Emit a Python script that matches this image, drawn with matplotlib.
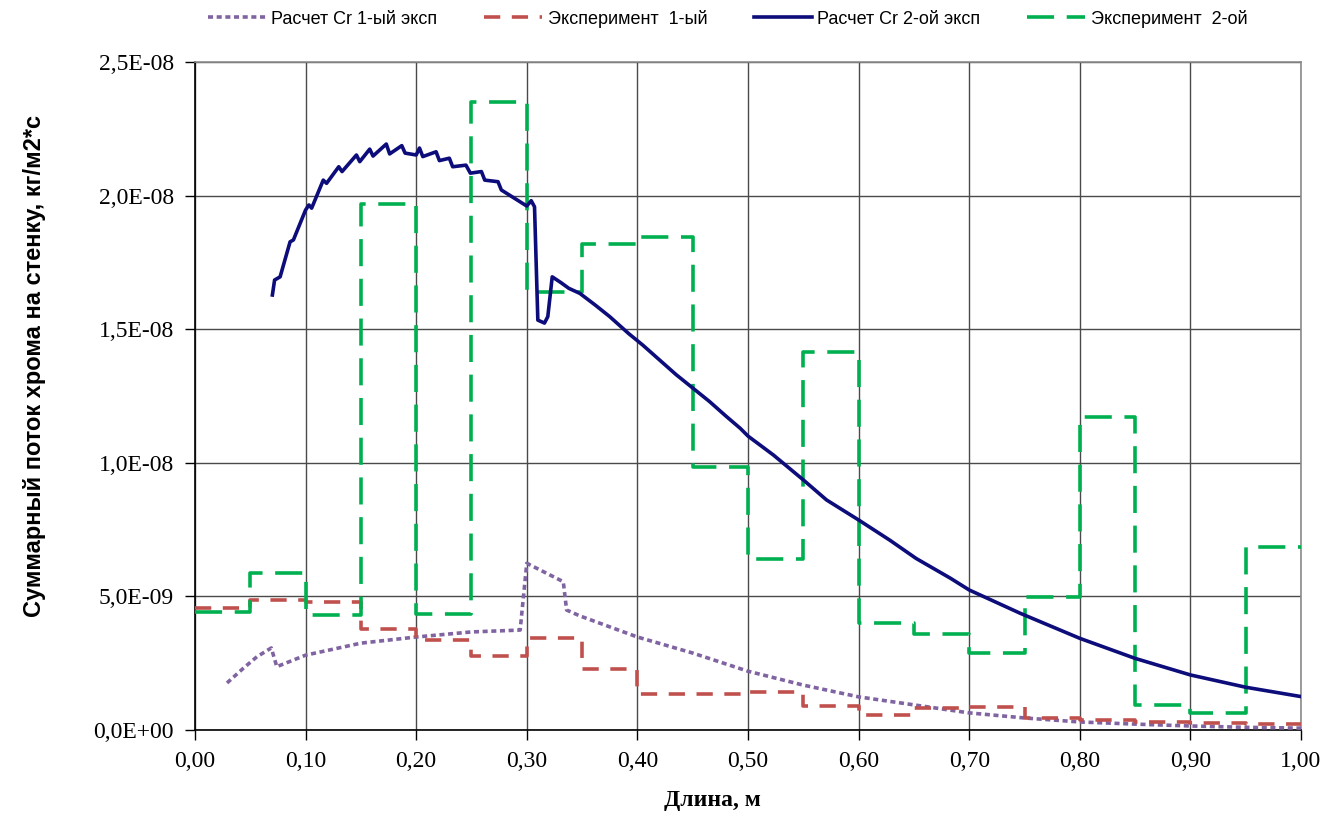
import matplotlib
matplotlib.use("Agg")
import matplotlib.pyplot as plt
from matplotlib.ticker import FuncFormatter, MultipleLocator
import numpy as np

# step edges for the experiments (bins of 0.05 m)
edges = [0.00, 0.05, 0.10, 0.15, 0.20, 0.25, 0.30, 0.35, 0.40, 0.45,
         0.50, 0.55, 0.60, 0.65, 0.70, 0.75, 0.80, 0.85, 0.90, 0.95, 1.00]

# experiment 1 (red), units 1e-9
exp1 = [4.55, 4.87, 4.80, 3.78, 3.37, 2.78, 3.44, 2.28, 1.33, 1.36,
        1.42, 0.91, 0.56, 0.82, 0.87, 0.45, 0.37, 0.30, 0.25, 0.22]

# experiment 2 (green), units 1e-9
exp2 = [4.43, 5.87, 4.30, 19.70, 4.35, 23.50, 16.40, 18.20, 18.45, 9.85,
        6.40, 14.15, 4.00, 3.60, 2.90, 4.98, 11.70, 0.94, 0.64, 6.85]

# calculation 1 (purple dotted)
calc1_x = [0.029, 0.044, 0.056, 0.069, 0.074, 0.10, 0.15, 0.20, 0.25, 0.294,
           0.300, 0.333, 0.336, 0.348, 0.40, 0.45, 0.50, 0.55, 0.60, 0.65,
           0.70, 0.75, 0.80, 0.85, 0.90, 0.95, 1.00]
calc1_y = [1.76, 2.32, 2.74, 3.07, 2.37, 2.80, 3.25, 3.48, 3.67, 3.74,
           6.24, 5.55, 4.49, 4.27, 3.48, 2.88, 2.20, 1.68, 1.24, 0.94,
           0.64, 0.45, 0.30, 0.22, 0.15, 0.10, 0.07]

# calculation 2 (navy solid)
calc2_x = [0.070, 0.072, 0.077, 0.086, 0.089, 0.100, 0.103, 0.1055, 0.116, 0.119,
           0.130, 0.133, 0.146, 0.149, 0.158, 0.161, 0.173, 0.176, 0.187, 0.190,
           0.200, 0.203, 0.206, 0.218, 0.221, 0.230, 0.233, 0.245, 0.249, 0.259,
           0.262, 0.274, 0.277, 0.300, 0.304, 0.307, 0.310, 0.316, 0.319, 0.323,
           0.331, 0.338, 0.348, 0.362, 0.375, 0.392, 0.405, 0.420, 0.435, 0.450,
           0.465, 0.480, 0.493, 0.500, 0.523, 0.550, 0.571, 0.600, 0.628, 0.652,
           0.683, 0.700, 0.746, 0.800, 0.850, 0.900, 0.950, 1.000]
calc2_y = [16.28, 16.84, 16.96, 18.27, 18.34, 19.46, 19.65, 19.53, 20.58, 20.46,
           21.08, 20.90, 21.52, 21.27, 21.74, 21.48, 21.93, 21.56, 21.87, 21.59,
           21.52, 21.78, 21.46, 21.64, 21.31, 21.40, 21.08, 21.14, 20.84, 20.90,
           20.58, 20.52, 20.21, 19.61, 19.81, 19.58, 15.34, 15.23, 15.47, 16.96,
           16.74, 16.53, 16.34, 15.90, 15.47, 14.84, 14.40, 13.85, 13.30, 12.80,
           12.30, 11.75, 11.29, 11.00, 10.29, 9.36, 8.61, 7.86, 7.11, 6.42,
           5.68, 5.24, 4.37, 3.43, 2.68, 2.06, 1.60, 1.25]

labels = ["Расчет Cr 1-ый эксп", "Эксперимент  1-ый",
          "Расчет Cr 2-ой эксп", "Эксперимент  2-ой"]

scale = 1e-9

fig = plt.figure(figsize=(13.28, 8.17), dpi=100)
ax = fig.add_axes([0.1468, 0.1065, 0.8329, 0.8176])

def steps(vals):
    return np.array(list(vals) + [vals[-1]]) * scale

ax.plot(np.array(calc1_x), np.array(calc1_y) * scale, color="#8064A2", lw=2.6,
        dashes=(1.4, 1.0), label=labels[0], zorder=3)
ax.plot(edges, steps(exp1), drawstyle="steps-post", color="#C0504D", lw=2.6,
        dashes=(4.5, 3.2), label=labels[1], zorder=3)
ax.plot(np.array(calc2_x), np.array(calc2_y) * scale, color="#0C0C7A", lw=2.6,
        label=labels[2], zorder=4)
ax.plot(edges, steps(exp2), drawstyle="steps-post", color="#00B050", lw=2.6,
        dashes=(7.5, 3.5), label=labels[3], zorder=3)

ax.set_xlim(0, 1.0)
ax.set_ylim(0, 2.5e-8)
ax.xaxis.set_major_locator(MultipleLocator(0.1))
ax.yaxis.set_major_locator(MultipleLocator(5e-9))
ax.xaxis.set_major_formatter(FuncFormatter(lambda v, p: f"{v:.2f}".replace(".", ",")))
ax.yaxis.set_major_formatter(FuncFormatter(lambda v, p: f"{v:.1E}".replace(".", ",")))

ax.grid(True, color="#4a4a4a", lw=1.0)
ax.set_axisbelow(True)
for s in ["top", "right"]:
    ax.spines[s].set_color("#8c8c8c")
    ax.spines[s].set_linewidth(1.2)
for s in ["left", "bottom"]:
    ax.spines[s].set_color("#000000")
    ax.spines[s].set_linewidth(1.2)

ax.tick_params(direction="out", length=7, width=1, pad=8)
for t in ax.get_xticklabels() + ax.get_yticklabels():
    t.set_fontfamily("Liberation Serif")
    t.set_fontsize(17)

ax.set_xlabel("Длина, м", fontfamily="Liberation Serif", fontweight="bold", fontsize=17)
ax.xaxis.set_label_coords(0.468, -0.09)
ax.set_ylabel("Суммарный поток хрома на стенку, кг/м2*с",
              fontfamily=["Liberation Sans Narrow", "Liberation Sans"],
              fontweight="bold", fontsize=17)
ax.yaxis.set_label_coords(-0.135, 0.545)

fig.legend(loc="center", bbox_to_anchor=(0.548, 0.977), ncol=4, frameon=False,
           prop={"family": ["Liberation Sans Narrow", "Liberation Sans"], "size": 13},
           handlelength=3.2, columnspacing=2.6, handletextpad=0.3)

fig.savefig("out.png", dpi=100)
